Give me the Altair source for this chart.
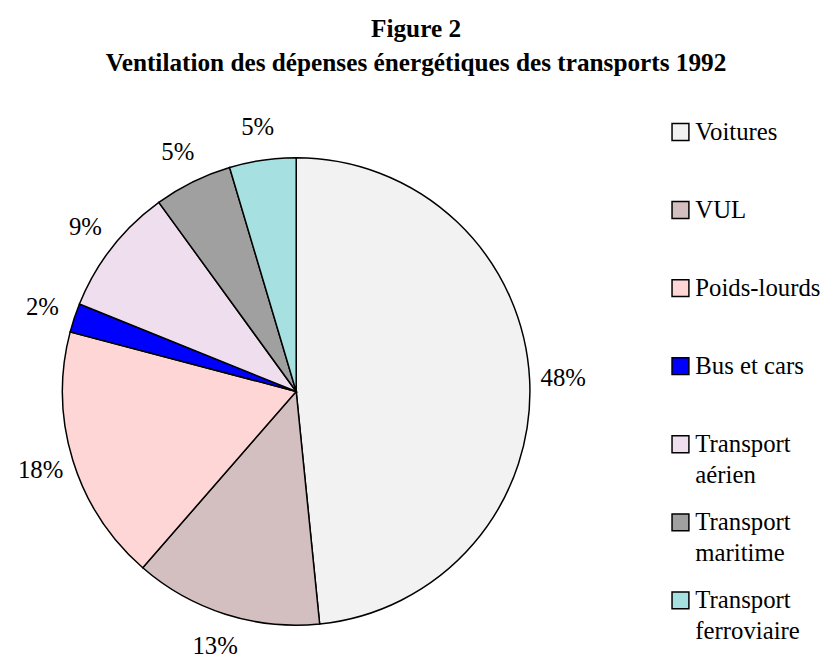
import altair as alt
import pandas as pd

categories = ["Voitures", "VUL", "Poids-lourds", "Bus et cars",
              "Transport aérien", "Transport maritime", "Transport ferroviaire"]
values = [48.4, 13.0, 17.7, 2.0, 8.9, 5.4, 4.6]
line1 = ["Voitures", "VUL", "Poids-lourds", "Bus et cars",
         "Transport", "Transport", "Transport"]
line2 = ["", "", "", "", "aérien", "maritime", "ferroviaire"]
colors = ["#F2F2F2", "#D3BFBF", "#FFD6D6", "#0000FF",
          "#EEDEEE", "#A0A0A0", "#A6E0E0"]

df = pd.DataFrame({
    "cat": categories,
    "val": values,
    "ordre": list(range(len(categories))),
    "l1": line1,
    "l2": line2,
})
df["pct"] = df["val"].round(0).astype(int).astype(str) + "%"

FONT = "Liberation Serif"
TOP = 92
CX, CY, R = 291, 392 - 8 - TOP, 236

color = alt.Color("cat:N", scale=alt.Scale(domain=categories, range=colors), legend=None)
theta = alt.Theta("val:Q", stack=True)
order = alt.Order("ordre:Q")

base = alt.Chart(df)

pie = base.mark_arc(radius=R, stroke="black", strokeWidth=1.5).encode(
    theta=theta, color=color, order=order,
    x=alt.value(CX), y=alt.value(CY),
)

labels = base.mark_text(radius=270, font=FONT, fontSize=25, color="black").encode(
    theta=theta, order=order, text="pct:N",
    x=alt.value(CX), y=alt.value(CY),
)

yleg = alt.Y("cat:N", scale=alt.Scale(domain=categories,
                                      range=[130 - 8 - TOP, 603 - 8 - TOP], padding=0), axis=None)

squares = base.mark_square(size=290, stroke="black", strokeWidth=1.5, opacity=1).encode(
    x=alt.value(679), y=yleg, color=color,
)

txt1 = base.mark_text(align="left", baseline="middle", font=FONT, fontSize=25, color="black").encode(
    x=alt.value(694), y=yleg, text="l1:N",
)
txt2 = base.mark_text(align="left", baseline="middle", font=FONT, fontSize=25, color="black", dy=31).encode(
    x=alt.value(694), y=yleg, text="l2:N",
)

chart = alt.layer(pie, labels, squares, txt1, txt2).properties(
    width=832, height=654 - TOP,
    autosize=alt.AutoSizeParams(type="none"),
    padding={"left": 0, "right": 0, "top": TOP, "bottom": 0},
    title=alt.TitleParams(
        text=["Figure 2", "Ventilation des dépenses énergétiques des transports 1992"],
        font=FONT, fontSize=25.5, fontWeight="bold", color="black",
        anchor="middle", lineHeight=34, offset=26, dx=-4,
    ),
).configure_view(stroke=None)

chart.save("out.html", embed_options={"renderer": "svg", "actions": False})
